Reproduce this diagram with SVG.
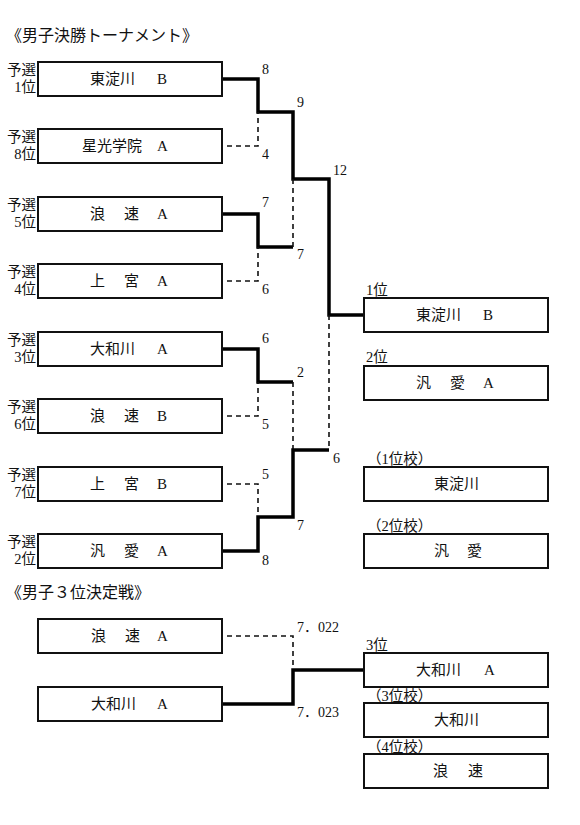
<svg xmlns="http://www.w3.org/2000/svg" width="580" height="825" viewBox="0 0 580 825">
<style>
text{font-family:"Liberation Serif","Noto Sans CJK JP",serif;fill:#111}
.t{font-size:16px}
.n{font-size:15px}
.lb{font-size:14.5px;text-anchor:end}
.s{font-size:14px}
.r{font-size:14.5px}
.box{fill:#fff;stroke:#111;stroke-width:2}
.win{fill:none;stroke:#000;stroke-width:3.5;stroke-linejoin:miter}
.lose{fill:none;stroke:#111;stroke-width:1.6;stroke-dasharray:5 4}
</style>
<rect width="580" height="825" fill="#fff"/>
<text class="t" x="6" y="41">《男子決勝トーナメント》</text>

<g id="connectors">
<polyline class="win" points="222,79 258,79 258,112 293,112 293,179 329,179 329,315 364,315"/>
<polyline class="lose" points="227,146 258,146 258,112"/>
<polyline class="win" points="222,214 258,214 258,247 293,247"/>
<polyline class="lose" points="227,281 258,281 258,247"/>
<polyline class="lose" points="293,247 293,179"/>
<polyline class="lose" points="329,315 329,450"/>
<polyline class="win" points="222,349 258,349 258,382 293,382"/>
<polyline class="lose" points="227,416 258,416 258,382"/>
<polyline class="lose" points="293,382 293,450"/>
<polyline class="lose" points="227,484 258,484 258,517"/>
<polyline class="win" points="222,551 258,551 258,517 293,517 293,450 329,450"/>
<polyline class="lose" points="227,636 293,636 293,670"/>
<polyline class="win" points="222,704 293,704 293,670 364,670"/>
</g>

<g id="scores" class="s">
<text class="s" x="262" y="74">8</text>
<text class="s" x="262" y="159">4</text>
<text class="s" x="297" y="107">9</text>
<text class="s" x="262" y="207">7</text>
<text class="s" x="262" y="294">6</text>
<text class="s" x="297" y="259">7</text>
<text class="s" x="333" y="175">12</text>
<text class="s" x="262" y="343">6</text>
<text class="s" x="262" y="429">5</text>
<text class="s" x="297" y="377">2</text>
<text class="s" x="262" y="479">5</text>
<text class="s" x="262" y="565">8</text>
<text class="s" x="297" y="530">7</text>
<text class="s" x="333" y="463">6</text>
<text class="s" x="297" y="632">7．022</text>
<text class="s" x="297" y="717">7．023</text>
</g>

<g id="n1"><text class="lb" x="36" y="75">予選</text><text class="lb" x="36" y="92">1位</text>
<rect class="box" x="38" y="62" width="184" height="34"/>
<text class="n" y="84"><tspan x="90">東淀川</tspan><tspan x="157">B</tspan></text></g>

<g id="n2"><text class="lb" x="36" y="142">予選</text><text class="lb" x="36" y="159">8位</text>
<rect class="box" x="38" y="129" width="184" height="34"/>
<text class="n" y="151"><tspan x="82">星光学院</tspan><tspan x="157">A</tspan></text></g>

<g id="n3"><text class="lb" x="36" y="210">予選</text><text class="lb" x="36" y="227">5位</text>
<rect class="box" x="38" y="197" width="184" height="34"/>
<text class="n" y="219"><tspan x="90">浪</tspan><tspan x="124">速</tspan><tspan x="157">A</tspan></text></g>

<g id="n4"><text class="lb" x="36" y="277">予選</text><text class="lb" x="36" y="294">4位</text>
<rect class="box" x="38" y="264" width="184" height="34"/>
<text class="n" y="286"><tspan x="90">上</tspan><tspan x="124">宮</tspan><tspan x="157">A</tspan></text></g>

<g id="n5"><text class="lb" x="36" y="345">予選</text><text class="lb" x="36" y="362">3位</text>
<rect class="box" x="38" y="332" width="184" height="34"/>
<text class="n" y="354"><tspan x="90">大和川</tspan><tspan x="157">A</tspan></text></g>

<g id="n6"><text class="lb" x="36" y="412">予選</text><text class="lb" x="36" y="429">6位</text>
<rect class="box" x="38" y="399" width="184" height="34"/>
<text class="n" y="421"><tspan x="90">浪</tspan><tspan x="124">速</tspan><tspan x="157">B</tspan></text></g>

<g id="n7"><text class="lb" x="36" y="480">予選</text><text class="lb" x="36" y="497">7位</text>
<rect class="box" x="38" y="467" width="184" height="34"/>
<text class="n" y="489"><tspan x="90">上</tspan><tspan x="124">宮</tspan><tspan x="157">B</tspan></text></g>

<g id="n8"><text class="lb" x="36" y="547">予選</text><text class="lb" x="36" y="564">2位</text>
<rect class="box" x="38" y="534" width="184" height="34"/>
<text class="n" y="556"><tspan x="90">汎</tspan><tspan x="124">愛</tspan><tspan x="157">A</tspan></text></g>

<g id="first"><text class="r" x="366" y="295">1位</text>
<rect class="box" x="364" y="298" width="184" height="34"/>
<text class="n" y="320"><tspan x="416">東淀川</tspan><tspan x="483">B</tspan></text></g>

<g id="second"><text class="r" x="366" y="362">2位</text>
<rect class="box" x="364" y="366" width="184" height="34"/>
<text class="n" y="388"><tspan x="416">汎</tspan><tspan x="450">愛</tspan><tspan x="483">A</tspan></text></g>

<g id="school1"><text class="r" x="367" y="464">（1位校）</text>
<rect class="box" x="364" y="467" width="184" height="34"/>
<text class="n" y="489"><tspan x="434">東淀川</tspan></text></g>

<g id="school2"><text class="r" x="367" y="531">（2位校）</text>
<rect class="box" x="364" y="534" width="184" height="34"/>
<text class="n" y="556"><tspan x="434">汎</tspan><tspan x="467">愛</tspan></text></g>

<text class="t" x="6" y="598">《男子３位決定戦》</text>

<g id="t1"><rect class="box" x="38" y="619" width="184" height="34"/>
<text class="n" y="641"><tspan x="91">浪</tspan><tspan x="125">速</tspan><tspan x="157">A</tspan></text></g>

<g id="t2"><rect class="box" x="38" y="687" width="184" height="34"/>
<text class="n" y="709"><tspan x="91">大和川</tspan><tspan x="157">A</tspan></text></g>

<g id="third"><text class="r" x="366" y="650">3位</text>
<rect class="box" x="364" y="653" width="184" height="34"/>
<text class="n" y="675"><tspan x="416">大和川</tspan><tspan x="484">A</tspan></text></g>

<g id="school3"><text class="r" x="367" y="701">（3位校）</text>
<rect class="box" x="364" y="703" width="184" height="34"/>
<text class="n" y="725"><tspan x="434">大和川</tspan></text></g>

<g id="school4"><text class="r" x="367" y="752">（4位校）</text>
<rect class="box" x="364" y="754" width="184" height="34"/>
<text class="n" y="776"><tspan x="433">浪</tspan><tspan x="468">速</tspan></text></g>
</svg>
